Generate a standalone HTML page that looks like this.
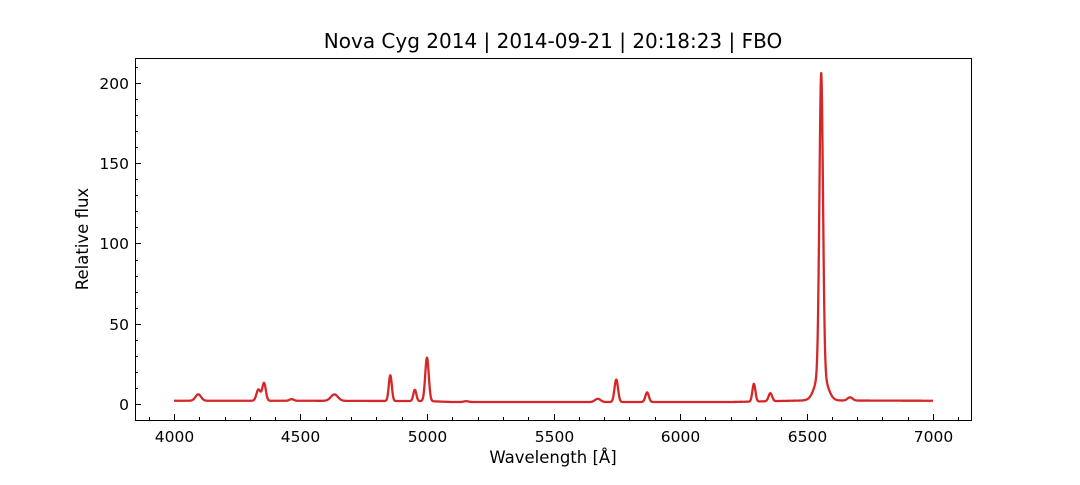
<!DOCTYPE html>
<html><head><meta charset="utf-8"><style>
body{margin:0;background:#fff;font-family:"Liberation Sans","DejaVu Sans",sans-serif;}
svg text{font-family:"DejaVu Sans","Liberation Sans",sans-serif;fill:#000;}
</style></head><body>
<svg id="chart" width="1080" height="480" viewBox="0 0 1080 480" xmlns="http://www.w3.org/2000/svg">
<rect width="1080" height="480" fill="#fff"/>
<text x="553" y="48" font-size="20" text-anchor="middle">Nova Cyg 2014 | 2014-09-21 | 20:18:23 | FBO</text>
<g id="axes"></g>
<path id="series" fill="none" stroke="#d62728" stroke-width="2.3" stroke-linejoin="round"/>
<rect x="135.5" y="58.5" width="836" height="362" fill="none" stroke="#000" stroke-width="1"/>
<text x="553" y="463" font-size="16.5" text-anchor="middle">Wavelength [Å]</text>
<text transform="translate(88,239) rotate(-90)" font-size="16.5" text-anchor="middle">Relative flux</text>
</svg>
<script>
const xTicks=[4000,4500,5000,5500,6000,6500,7000];
const yTicks=[0,50,100,150,200];
const lineCenters=[4096,4334,4356,4465,4634,4855,4952,5000,5155,5675,5748,5870,6292,6357,6558,6558,6672];
const lineAmps=[4,7,11,1,4,16,7,27,0.5,2,14,6,11,5,186,18,2];
const lineWidths=[11,8,7,8,14,6,6,7,10,11,7,7,6,7,7,22,10];
const contWave=[4000,4500,5000,5100,6200,6500,7000];
const contFlux=[2,2,1.8,1.2,1.2,2.2,2];
const X0=3846,X1=7150,Y0=-10,Y1=215.6,L=135,R=971,T=58,B=420;
const sx=v=>L+(v-X0)/(X1-X0)*(R-L);
const sy=v=>B-(v-Y0)/(Y1-Y0)*(B-T);
const ns="http://www.w3.org/2000/svg";
const ax=document.getElementById('axes');
function ln(x1,y1,x2,y2,name){const e=document.createElementNS(ns,'line');
e.setAttribute('x1',x1);e.setAttribute('y1',y1);e.setAttribute('x2',x2);e.setAttribute('y2',y2);
e.setAttribute('stroke','#000');


ax.appendChild(e);}
function tx(x,y,s,anchor,name){const e=document.createElementNS(ns,'text');
e.setAttribute('x',x);e.setAttribute('y',y);e.setAttribute('font-size','15.5');e.setAttribute('text-anchor',anchor);e.textContent=s;


ax.appendChild(e);}
for(let v=3900;v<=7100;v+=100){const x=Math.round(sx(v))+0.5;
 if(xTicks.includes(v)){ln(x,B,x,B-6,'x-major-tick');tx(x,B+22,String(v),'middle','x-tick-label');}
 else ln(x,B,x,B-3,'x-minor-tick');}
for(let v=-10;v<=210;v+=10){const y=Math.round(sy(v))+0.5;
 if(yTicks.includes(v)){ln(L,y,L+6,y,'y-major-tick');tx(L-6,y+5.5,String(v),'end','y-tick-label');}
 else ln(L,y,L+3,y,'y-minor-tick');}
function cont(w){for(let i=0;i<contWave.length-1;i++){if(w<=contWave[i+1]){const t=(w-contWave[i])/(contWave[i+1]-contWave[i]);return contFlux[i]+t*(contFlux[i+1]-contFlux[i]);}}return contFlux[contFlux.length-1];}
let d='';
for(let w=4000;w<=7000;w+=1){let f=cont(w);
 for(let i=0;i<lineCenters.length;i++){const z=(w-lineCenters[i])/lineWidths[i];f+=lineAmps[i]*Math.exp(-0.5*z*z);}
 d+=(w===4000?'M':'L')+sx(w).toFixed(2)+','+sy(f).toFixed(2);}
document.getElementById('series').setAttribute('d',d);
</script>
</body></html>
